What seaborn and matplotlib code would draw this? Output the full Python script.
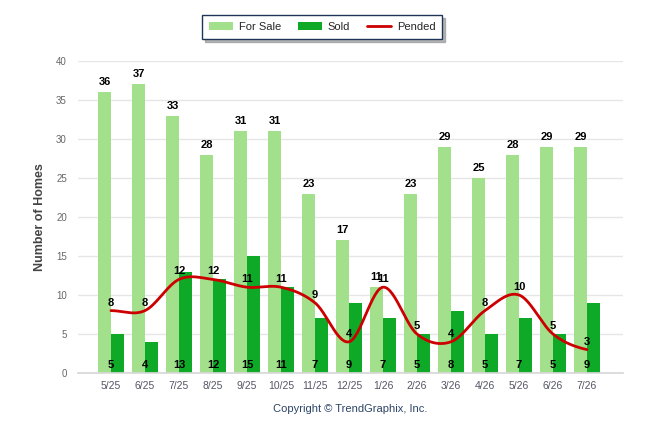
import numpy as np
import pandas as pd
import matplotlib
matplotlib.use("Agg")
import matplotlib.pyplot as plt
import seaborn as sns
from matplotlib.patches import Patch
from matplotlib.lines import Line2D

months = ["5/25", "6/25", "7/25", "8/25", "9/25", "10/25", "11/25", "12/25",
          "1/26", "2/26", "3/26", "4/26", "5/26", "6/26", "7/26"]
for_sale = [36, 37, 33, 28, 31, 31, 23, 17, 11, 23, 29, 25, 28, 29, 29]
sold = [5, 4, 13, 12, 15, 11, 7, 9, 7, 5, 8, 5, 7, 5, 9]
pended = [8, 8, 12, 12, 11, 11, 9, 4, 11, 5, 4, 8, 10, 5, 3]

C_SALE = "#a3e08b"
C_SOLD = "#0eaa27"
C_PEND = "#cc0000"

sns.set_theme(style="white")
plt.rcParams["font.family"] = ["Liberation Sans", "DejaVu Sans"]

df = pd.DataFrame({
    "month": months * 2,
    "value": for_sale + sold,
    "series": ["For Sale"] * len(months) + ["Sold"] * len(months),
})

fig = plt.figure(figsize=(6.46, 4.34), dpi=100)
ax = fig.add_axes([78 / 646, 1 - 373 / 434, (623 - 78) / 646, (373 - 61) / 434])

sns.barplot(data=df, x="month", y="value", hue="series", order=months,
            hue_order=["For Sale", "Sold"], palette=[C_SALE, C_SOLD],
            width=0.76, gap=0, dodge=True, ax=ax, legend=False,
            saturation=1, linewidth=0)

# smooth pended line (Catmull-Rom style cubic Hermite through the points)
x = np.arange(len(pended), dtype=float)
y = np.array(pended, dtype=float)
m = np.zeros_like(y)
m[1:-1] = (y[2:] - y[:-2]) / 2
m[0] = (y[1] - y[0]) / 2
m[-1] = (y[-1] - y[-2]) / 2
xs, ys = [], []
for i in range(len(x) - 1):
    t = np.linspace(0, 1, 30)
    h00 = 2 * t**3 - 3 * t**2 + 1
    h10 = t**3 - 2 * t**2 + t
    h01 = -2 * t**3 + 3 * t**2
    h11 = t**3 - t**2
    xs.append(x[i] + t)
    ys.append(h00 * y[i] + h10 * m[i] + h01 * y[i + 1] + h11 * m[i + 1])
ax.plot(np.concatenate(xs), np.concatenate(ys), color=C_PEND, lw=2, zorder=4)

ppu = 312 / 40.0
for i in range(len(months)):
    ax.text(i - 0.19, for_sale[i] + 10 / ppu, str(for_sale[i]), ha="center",
            va="center", fontsize=8, fontweight="bold", color="black", zorder=5)
    ax.text(i, pended[i] + 8 / ppu, str(pended[i]), ha="center", va="center",
            fontsize=8, fontweight="bold", color="black", zorder=5)
    ax.text(i, 1.0, str(sold[i]), ha="center", va="center", fontsize=8,
            fontweight="bold", color="black", zorder=5)

ax.set_ylim(0, 40)
ax.set_xlim(-0.97, 15.06)
ax.set_yticks(range(0, 41, 5))
ax.yaxis.grid(True, color="#e6e6e6", lw=1)
ax.set_axisbelow(True)
for s in ["top", "right", "left"]:
    ax.spines[s].set_visible(False)
ax.spines["bottom"].set_color("#d8d8d8")
ax.tick_params(axis="y", length=0, labelsize=7, labelcolor="#666666", pad=8)
ax.tick_params(axis="x", length=0, labelsize=7.5, labelcolor="#555566", pad=6)
ax.set_xlabel("")
ax.set_ylabel("Number of Homes", fontsize=9, fontweight="bold", color="#444444",
              labelpad=7)

handles = [Patch(facecolor=C_SALE, edgecolor="none", label="For Sale"),
           Patch(facecolor=C_SOLD, edgecolor="none", label="Sold"),
           Line2D([0], [0], color=C_PEND, lw=2, label="Pended")]
leg = fig.legend(handles=handles, loc="center", bbox_to_anchor=(322 / 646, 1 - 27 / 434),
                 ncol=3, frameon=True, fancybox=False,
                 shadow={"color": "#888888", "alpha": 0.6}, fontsize=8,
                 handlelength=2.2, handleheight=0.8, columnspacing=1.5,
                 borderpad=0.6, handletextpad=0.5)
leg.get_frame().set_edgecolor("#1f3457")
leg.get_frame().set_linewidth(1.0)

fig.text(350 / 646, 1 - 409 / 434, "Copyright © TrendGraphix, Inc.", ha="center",
         va="center", fontsize=8, color="#2c4466")

fig.savefig("out.png", dpi=100)
